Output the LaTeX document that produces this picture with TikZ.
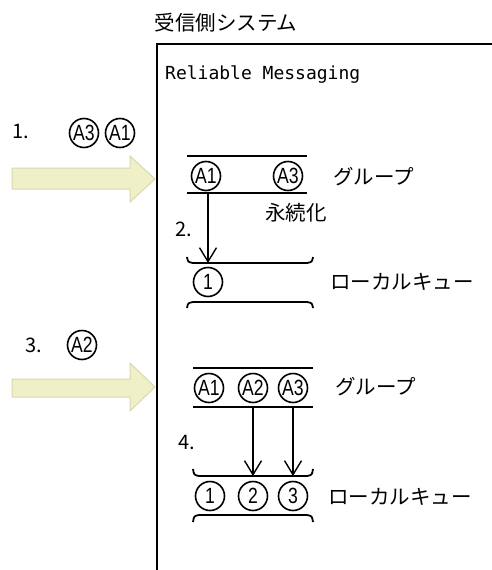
\documentclass[tikz,border=0pt]{standalone}
\usepackage{fontspec}
\setmainfont{Noto Sans CJK JP}
\newfontfamily\monof{DejaVu Sans Mono}
\newfontfamily\circf{Liberation Sans}
\usetikzlibrary{arrows.meta}
\definecolor{arrowfill}{HTML}{F0F0C8}
\definecolor{arrowdraw}{HTML}{D8D8B0}
\newcommand\circtxt[1]{\scalebox{0.8}[1]{#1}}
\begin{document}
\begin{tikzpicture}[x=1pt,y=-1pt,
  jp/.style={font=\fontsize{20.5}{24}\selectfont, inner sep=0pt},
  num/.style={font=\fontsize{20}{22}\selectfont, inner sep=0pt, anchor=west},
  ci/.style={circle, draw, line width=1.6pt, minimum size=29pt, inner sep=0pt, font=\circf\fontsize{22}{23}\selectfont},
  ln/.style={line width=1.8pt},
  flow/.style={line width=1.4pt, -{Straight Barb[length=14pt,width=17pt,line width=1.4pt]}},
  bigarrow/.style={fill=arrowfill, draw=arrowdraw, line width=1pt},
]
\useasboundingbox (0,0) rectangle (491,570);

% system box
\draw[line width=2pt] (157,571) -- (157,44) -- (492,44);
\node[jp] (title) at (226,23) {受信側システム};
\node[anchor=west, font=\monof\fontsize{18}{20}\selectfont, inner sep=0pt] (rm) at (165,75) {Reliable Messaging};

% step 1
\node[num] (n1) at (12,131) {1.};
\node[ci] (in3) at (84,133) {\circtxt{A3}};
\node[ci] (in1) at (120,133) {\circtxt{A1}};
\draw[bigarrow] (12,168) -- (130,168) -- (130,156) -- (155,179) -- (130,202) -- (130,189) -- (12,189) -- cycle;

% group 1
\draw[ln] (187,156) -- (307,156);
\draw[ln] (187,193) -- (307,193);
\node[ci] (g1a1) at (206,176) {\circtxt{A1}};
\node[ci] (g1a3) at (288,176) {\circtxt{A3}};
\node[jp, anchor=west] (grp1) at (333,177) {グループ};
\node[jp] (eizoku) at (296,213) {永続化};
\node[num] (n2) at (175,229) {2.};

% queue 1
\draw[ln] (187,257) .. controls (188,262) .. (193,263) -- (307,263) .. controls (312,262) .. (313,257);
\draw[ln] (187,308) .. controls (188,303) .. (193,302) -- (307,302) .. controls (312,303) .. (313,308);
\node[ci] (q1c1) at (208,282) {\circtxt{1}};
\node[jp, anchor=west] (lq1) at (330,282) {ローカルキュー};

\coordinate (a2s) at (208,193);
\coordinate (a2e) at (208,263);
\draw[flow] (a2s) -- (a2e);

% step 3
\node[num] (n3) at (25,345) {3.};
\node[ci] (in2) at (82,345) {\circtxt{A2}};
\draw[bigarrow] (12,379) -- (130,379) -- (130,363) -- (155,387) -- (130,411) -- (130,397) -- (12,397) -- cycle;

% group 2
\draw[ln] (193,368) -- (313,368);
\draw[ln] (193,407) -- (313,407);
\node[ci] (g2a1) at (209,388) {\circtxt{A1}};
\node[ci] (g2a2) at (253,388) {\circtxt{A2}};
\node[ci] (g2a3) at (293,388) {\circtxt{A3}};
\node[jp, anchor=west] (grp2) at (335,387) {グループ};
\node[num] (n4) at (178,442) {4.};

% queue 2
\draw[ln] (193,469) .. controls (194,475) .. (199,476) -- (307,476) .. controls (312,475) .. (313,469);
\draw[ln] (193,522) .. controls (194,516) .. (199,515) -- (307,515) .. controls (312,516) .. (313,522);
\node[ci] (q2c1) at (210,496) {\circtxt{1}};
\node[ci] (q2c2) at (253,496) {\circtxt{2}};
\node[ci] (q2c3) at (293,496) {\circtxt{3}};
\node[jp, anchor=west] (lq2) at (328,497) {ローカルキュー};

\coordinate (a4s) at (253,407);
\coordinate (a4e) at (253,476);
\coordinate (a5s) at (293,407);
\coordinate (a5e) at (293,476);
\draw[flow] (a4s) -- (a4e);
\draw[flow] (a5s) -- (a5e);
\end{tikzpicture}
\end{document}
